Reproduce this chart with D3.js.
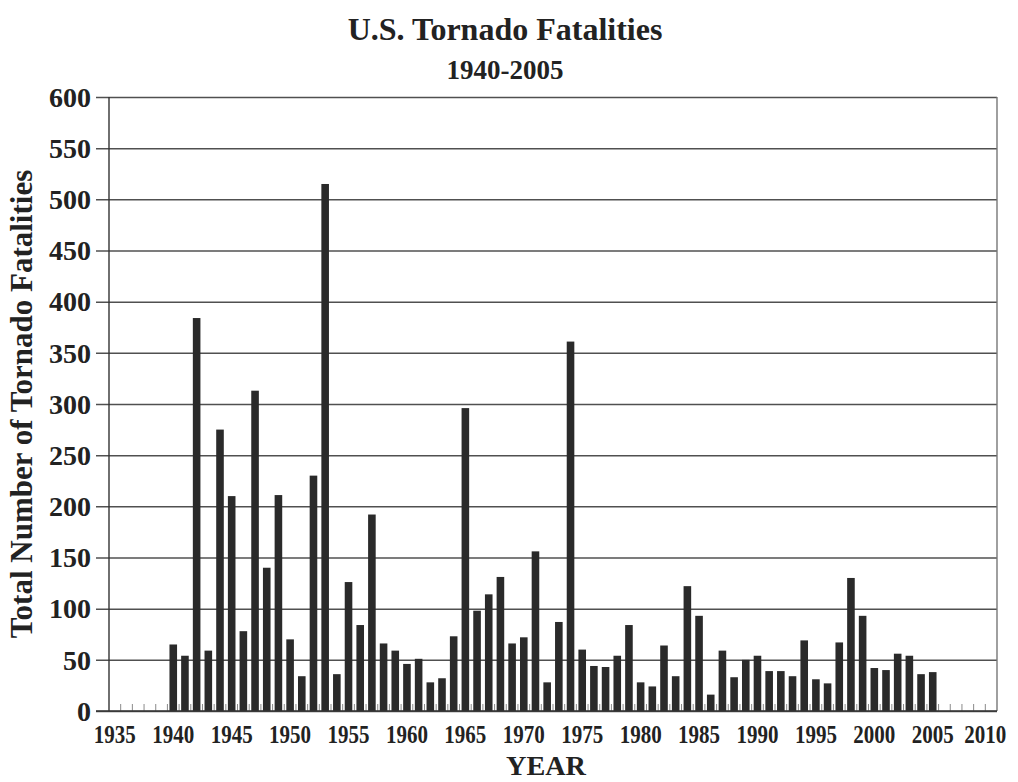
<!DOCTYPE html>
<html>
<head>
<meta charset="utf-8">
<title>U.S. Tornado Fatalities 1940-2005</title>
<script src="https://cdn.jsdelivr.net/npm/d3@7"></script>
<style>
  html, body { margin: 0; padding: 0; background: #ffffff; }
  svg { display: block; }
  text { font-family: "Liberation Serif", "Times New Roman", serif; font-weight: bold; fill: #222; }
</style>
</head>
<body>
<svg id="chart" width="1018" height="782"></svg>
<script>
// Annual U.S. tornado deaths, 1940-2005
const years = d3.range(1940, 2006);
const fatalities = [
  65, 54, 384, 59, 275, 210, 78, 313, 140, 211,   // 1940s
  70, 34, 230, 515, 36, 126, 84, 192, 66, 59,     // 1950s
  46, 51, 28, 32, 73, 296, 98, 114, 131, 66,      // 1960s
  72, 156, 28, 87, 361, 60, 44, 43, 54, 84,       // 1970s
  28, 24, 64, 34, 122, 93, 16, 59, 33, 50,        // 1980s
  54, 39, 39, 34, 69, 31, 27, 67, 130, 93,        // 1990s
  42, 40, 56, 54, 36, 38                          // 2000-2005
];
// The category axis runs 1935-2010; only every fifth year is labelled
const axisYears = d3.range(1935, 2011);
const xTickLabels = ["1935", "1940", "1945", "1950", "1955", "1960", "1965", "1970",
                     "1975", "1980", "1985", "1990", "1995", "2000", "2005", "2010"];
const yTicks = [0, 50, 100, 150, 200, 250, 300, 350, 400, 450, 500, 550, 600];

const titleText = "U.S. Tornado Fatalities";
const subtitleText = "1940-2005";
const yTitleText = "Total Number of Tornado Fatalities";
const xTitleText = "YEAR";

const svg = d3.select("#chart");
const plotLeft = 109, plotRight = 997, plotTop = 97, plotBottom = 711;

const x = d3.scaleBand()
  .domain(axisYears)
  .range([plotLeft, plotRight])
  .paddingInner(0.35)
  .paddingOuter(0.175);

const y = d3.scaleLinear().domain([0, 600]).range([plotBottom, plotTop]);

const data = years.map((yr, i) => ({ year: yr, value: fatalities[i] }));

// Horizontal gridlines, extended left past the axis as outward ticks
svg.append("g")
  .attr("transform", `translate(${plotLeft},0)`)
  .call(d3.axisLeft(y).tickValues(yTicks).tickSize(-(plotRight - plotLeft)).tickSizeOuter(0).tickFormat(""))
  .call(g => g.select(".domain").remove())
  .call(g => g.selectAll(".tick line")
    .attr("x1", -13)
    .attr("stroke", "#505050")
    .attr("stroke-width", 1.5));

// Y tick labels
svg.append("g")
  .selectAll("text")
  .data(yTicks)
  .join("text")
  .attr("x", 91)
  .attr("y", d => y(d))
  .attr("dy", "0.35em")
  .attr("text-anchor", "end")
  .style("font-size", "28px")
  .text(d => d);

// Right-hand frame edge
svg.append("line")
  .attr("x1", plotRight).attr("x2", plotRight)
  .attr("y1", plotTop).attr("y2", plotBottom)
  .attr("stroke", "#777").attr("stroke-width", 1.4);

// Bars
svg.append("g")
  .selectAll("rect")
  .data(data)
  .join("rect")
  .attr("x", d => x(d.year))
  .attr("width", x.bandwidth())
  .attr("y", d => y(d.value))
  .attr("height", d => y(0) - y(d.value))
  .attr("fill", "#2a2a2a");

// Small inward tick marks on the category boundaries
const step = x.step();
const boundaryYears = axisYears.slice(1);
svg.append("g")
  .selectAll("line")
  .data(boundaryYears)
  .join("line")
  .attr("x1", d => x(d) - step * x.paddingInner() / 2)
  .attr("x2", d => x(d) - step * x.paddingInner() / 2)
  .attr("y1", plotBottom)
  .attr("y2", plotBottom - 7)
  .attr("stroke", "#8a8a8a")
  .attr("stroke-width", 1);

// Left axis line and baseline
svg.append("line")
  .attr("x1", plotLeft).attr("x2", plotLeft)
  .attr("y1", plotTop).attr("y2", plotBottom)
  .attr("stroke", "#333").attr("stroke-width", 1.4);
svg.append("line")
  .attr("x1", plotLeft - 13).attr("x2", plotRight)
  .attr("y1", plotBottom).attr("y2", plotBottom)
  .attr("stroke", "#333").attr("stroke-width", 1.6);

// X axis labels, every fifth year centred on its category
const xAxis = svg.append("g")
  .attr("transform", `translate(0,${plotBottom})`)
  .call(d3.axisBottom(x).tickValues(xTickLabels.map(Number)).tickSize(0).tickPadding(0))
  .call(g => g.select(".domain").remove());
xAxis.attr("font-family", null).attr("font-size", null);
xAxis.selectAll("text")
  .attr("y", 32)
  .attr("dy", 0)
  .attr("fill", null)
  .style("font-size", "26px")
  .attr("textLength", 42)
  .attr("lengthAdjust", "spacingAndGlyphs");
// keep the last label inside the page edge
xAxis.selectAll(".tick").filter(d => d === 2010)
  .select("text").attr("x", -6);

// Titles
svg.append("text")
  .attr("x", 505).attr("y", 40)
  .attr("text-anchor", "middle")
  .style("font-size", "32px")
  .text(titleText);

svg.append("text")
  .attr("x", 505).attr("y", 79)
  .attr("text-anchor", "middle")
  .style("font-size", "27px")
  .text(subtitleText);

svg.append("text")
  .attr("transform", "translate(32,404) rotate(-90)")
  .attr("text-anchor", "middle")
  .style("font-size", "31px")
  .text(yTitleText);

svg.append("text")
  .attr("x", 546).attr("y", 775)
  .attr("text-anchor", "middle")
  .style("font-size", "28px")
  .attr("textLength", 80)
  .attr("lengthAdjust", "spacingAndGlyphs")
  .text(xTitleText);
</script>
</body>
</html>
